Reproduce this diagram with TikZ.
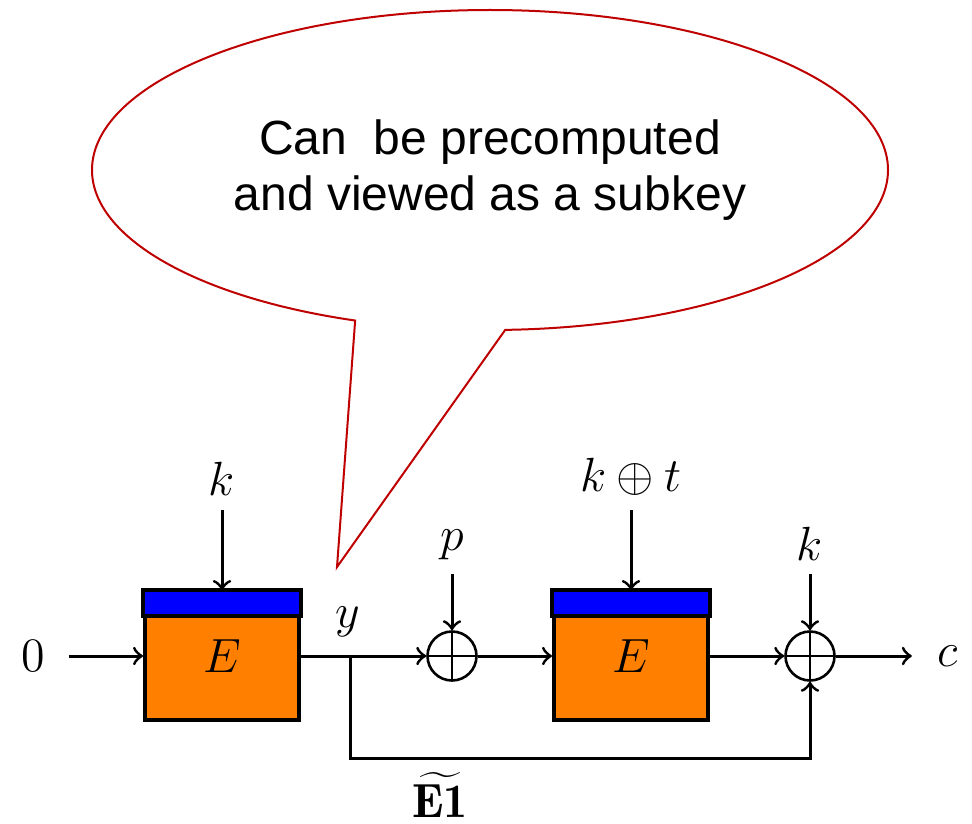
\documentclass[tikz,border=0pt]{standalone}
\usepackage{fontspec}
\setsansfont{Liberation Sans}
\usepackage{tikz}
\usetikzlibrary{positioning,shapes.callouts}

\begin{document}
\begin{tikzpicture}[
  x=0.25pt, y=-0.25pt,
  font=\large,
  >=to,
  node distance=20pt,
  cipher/.style={draw, line width=1pt, fill=orange, minimum width=38.5pt, minimum height=32pt, inner sep=0pt},
  xor/.style={draw, line width=0.65pt, circle, minimum size=12.25pt, inner sep=0pt,
    path picture={\draw[line width=0.65pt] (path picture bounding box.north) -- (path picture bounding box.south)
      (path picture bounding box.west) -- (path picture bounding box.east);}},
  arrow/.style={->, line width=0.75pt},
  wire/.style={line width=0.75pt},
  bubble/.style={ellipse callout, draw=red!75!black, line width=0.5pt, fill=white, minimum width=199pt,
    minimum height=80pt, inner sep=0pt, callout pointer arc=22, align=center, font=\large\sffamily}
]
\useasboundingbox (0,0) rectangle (972,823);

\node[bubble, callout absolute pointer={(337,567)}] (note) at (490,170) {Can\ \ be precomputed\\and viewed as a subkey};

\node[cipher] (E1) at (222,656) {$E$};
\node[cipher] (E2) at (631,656) {$E$};
\foreach \b in {E1,E2}
  \filldraw[fill=blue, line width=1pt] (\b.north west) rectangle ([yshift=-6.5pt]\b.north east);

\node[xor] (x1) at (452,656) {};
\node[xor] (x2) at (810,656) {};
\coordinate (br) at (350,656);

\node[left=21pt of E1] (zero) {$0$};
\node[above=of E1] (k1) {$k$};
\node[above=of E2] (kt) {$k\oplus t$};
\node[above=14pt of x1] (p) {$p$};
\node[above=14pt of x2] (k2) {$k$};
\node[right=22pt of x2] (c) {$c$};
\node (ylab) at (348,622) {$y$};
\node (e1t) at (440,795) {$\widetilde{\mathbf{E1}}$};

\draw[arrow, shorten <=2.5pt] (zero) -- (E1);
\draw[arrow] (k1) -- (E1);
\draw[arrow] (E1) -- (x1);
\draw[arrow] (p) -- (x1);
\draw[arrow] (x1) -- (E2);
\draw[arrow] (kt) -- (E2);
\draw[arrow] (E2) -- (x2);
\draw[arrow] (k2) -- (x2);
\draw[arrow, shorten >=3pt] (x2) -- (c);
\draw[arrow, rounded corners=0pt] (br) -- ++(0,102) -| (x2.south);

\end{tikzpicture}
\end{document}
